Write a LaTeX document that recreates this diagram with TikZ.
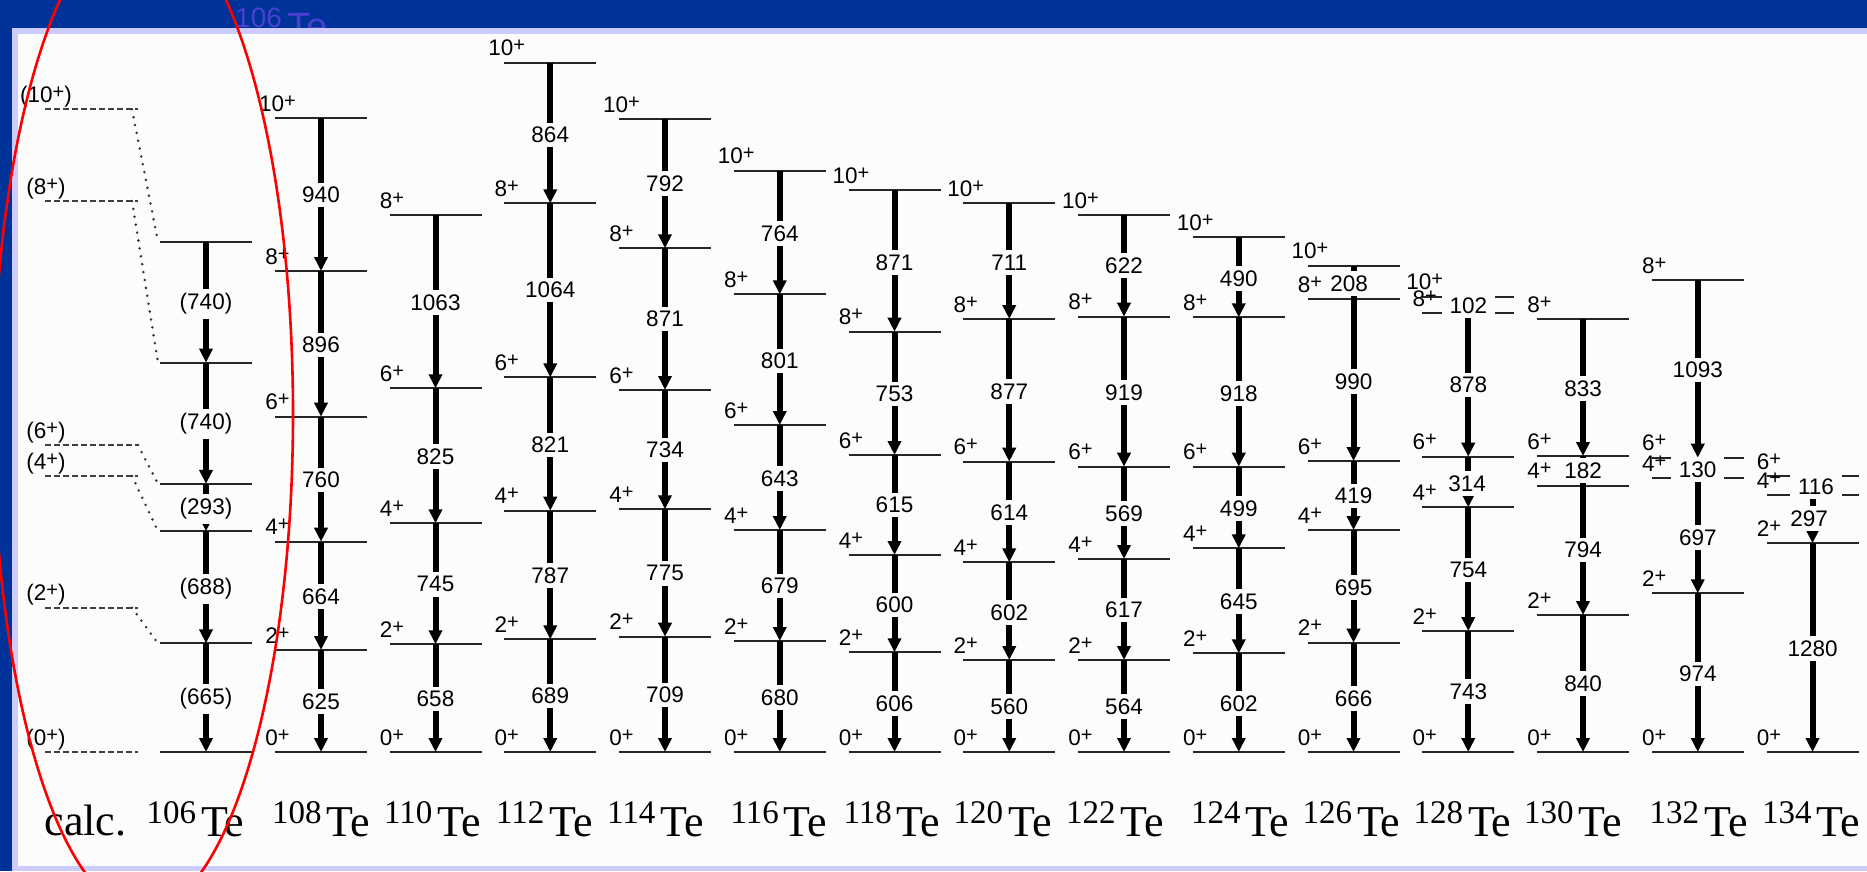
\documentclass[tikz,border=0pt]{standalone}
\usepackage{fontspec}
\setmainfont{Liberation Serif}
\newfontfamily\labfont{Liberation Sans}
\usetikzlibrary{arrows.meta}
\definecolor{banner}{RGB}{0,51,153}
\definecolor{frame}{RGB}{204,204,255}
\definecolor{panel}{RGB}{252,252,252}
\definecolor{ghost}{RGB}{72,64,208}
\definecolor{ringred}{RGB}{255,0,0}
\pgfdeclarelayer{elab}
\pgfdeclarelayer{slab}
\pgfdeclarelayer{ringlayer}
\pgfsetlayers{main,elab,slab,ringlayer}
\newcommand\pl{\raisebox{4pt}{\fontsize{20}{20}\selectfont +}}
\newcommand\sups[1]{\raisebox{13pt}{\fontsize{33}{33}\selectfont #1}\hspace{5pt}}
\tikzset{
  levelline/.style={line width=2pt, draw=black!85},
  gam/.style={line width=6pt, draw=black, -{Triangle[length=14pt, width=13pt]}},
  gamline/.style={line width=6pt, draw=black},
  en/.style={fill=panel, inner xsep=8pt, inner ysep=4.5pt, font=\labfont\fontsize{22.5}{22.5}\selectfont},
  spin/.style={inner sep=0pt, anchor=base, font=\labfont\fontsize{22.5}{22.5}\selectfont},
  iso/.style={inner sep=0pt, anchor=base, font=\fontsize{44}{44}\selectfont},
  calcdash/.style={line width=1.8pt, draw=black!75, dash pattern=on 6pt off 3pt},
  calcdot/.style={line width=2.8pt, draw=black!80, dash pattern=on 0pt off 8pt, line cap=round},
}
\newcommand\lvl[4]{\coordinate (#1) at (#2,#3);
  \draw[levelline] ([xshift=-46pt]#1) -- ([xshift=46pt]#1);
  \begin{pgfonlayer}{slab}\node[spin] (#1s) at ([xshift=-43.5pt,yshift=7pt]#1) {#4};\end{pgfonlayer}}
\newcommand\lvlb[3]{\coordinate (#1) at (#2,#3);
  \draw[levelline] ([xshift=-46pt]#1) -- ([xshift=46pt]#1);}
\newcommand\gam[5]{\draw[gam] (#1) -- (#2);
  \begin{pgfonlayer}{elab}\node[en] (#1t) at (#3,#4) {#5};\end{pgfonlayer}}
\newcommand\gamn[5]{\draw[gamline] (#1) -- (#2);
  \begin{pgfonlayer}{elab}\node[en] (#1t) at (#3,#4) {#5};\end{pgfonlayer}}
\newcommand\calclev[3]{\coordinate (#1a) at (45,#2); \coordinate (#1b) at (138,#2);
  \draw[calcdash] (#1a) -- (#1b);
  \node[spin] (#1s) at (46,#2-7) {#3};}
\begin{document}
\begin{tikzpicture}[x=1pt,y=-1pt]
\useasboundingbox (0,0) rectangle (1867,871);
% background
\fill[banner] (0,0) rectangle (1867,871);
\node[anchor=base west, inner sep=0pt, text=ghost, font=\labfont\fontsize{38}{38}\selectfont] (ghosttitle) at (235,39.5)
  {\raisebox{12pt}{\fontsize{28}{28}\selectfont 106}\hspace{6pt}Te};
\fill[frame] (12,28) rectangle (1867,871);
\fill[panel] (18,34) rectangle (1867,866);

% calc
\calclev{K10}{109.3}{(10\pl)}
\calclev{K8}{201}{(8\pl)}
\calclev{K6}{445}{(6\pl)}
\calclev{K4}{476}{(4\pl)}
\calclev{K2}{607.7}{(2\pl)}
\calclev{K0}{752}{(0\pl)}

% 106
\lvlb{L106a}{206}{241.7}
\lvlb{L106b}{206}{362.6}
\lvlb{L106c}{206}{483.9}
\lvlb{L106d}{206}{531.2}
\lvlb{L106e}{206}{643.4}
\lvlb{L106f}{206}{752}
\gam{L106a}{L106b}{206}{303.6}{(740)}
\gam{L106b}{L106c}{206}{423.8}{(740)}
\gam{L106c}{L106d}{206}{508.7}{(293)}
\gam{L106d}{L106e}{206}{588.8}{(688)}
\gam{L106e}{L106f}{206}{698.8}{(665)}

\coordinate (D10) at (132,109.3);
\coordinate (D8) at (132,201);
\coordinate (D6) at (138,445);
\coordinate (D4) at (132,476);
\coordinate (D2) at (132,607.7);
\draw[calcdot] (D10) -- ([xshift=-48pt]L106a);
\draw[calcdot] (D8) -- ([xshift=-48pt]L106b);
\draw[calcdot] (D6) -- ([xshift=-48pt]L106c);
\draw[calcdot] (D4) -- ([xshift=-48pt]L106d);
\draw[calcdot] (D2) -- ([xshift=-48pt]L106e);

% 108
\lvl{L108a}{321}{118.3}{10\pl}
\lvl{L108b}{321}{271}{8\pl}
\lvl{L108c}{321}{416.7}{6\pl}
\lvl{L108d}{321}{541.7}{4\pl}
\lvl{L108e}{321}{650}{2\pl}
\lvl{L108f}{321}{752}{0\pl}
\gam{L108a}{L108b}{321}{195}{940}
\gam{L108b}{L108c}{321}{345}{896}
\gam{L108c}{L108d}{321}{480}{760}
\gam{L108d}{L108e}{321}{596.7}{664}
\gam{L108e}{L108f}{321}{701.7}{625}

% 110
\lvl{L110b}{435.5}{215}{8\pl}
\lvl{L110c}{435.5}{388.3}{6\pl}
\lvl{L110d}{435.5}{523.3}{4\pl}
\lvl{L110e}{435.5}{644.3}{2\pl}
\lvl{L110f}{435.5}{752}{0\pl}
\gam{L110b}{L110c}{435.5}{302.7}{1063}
\gam{L110c}{L110d}{435.5}{456.7}{825}
\gam{L110d}{L110e}{435.5}{584.3}{745}
\gam{L110e}{L110f}{435.5}{699}{658}

% 112
\lvl{L112a}{550.25}{62.7}{10\pl}
\lvl{L112b}{550.25}{203.3}{8\pl}
\lvl{L112c}{550.25}{377.3}{6\pl}
\lvl{L112d}{550.25}{510.7}{4\pl}
\lvl{L112e}{550.25}{639.3}{2\pl}
\lvl{L112f}{550.25}{752}{0\pl}
\gam{L112a}{L112b}{550.25}{135}{864}
\gam{L112b}{L112c}{550.25}{290}{1064}
\gam{L112c}{L112d}{550.25}{445}{821}
\gam{L112d}{L112e}{550.25}{575.7}{787}
\gam{L112e}{L112f}{550.25}{696}{689}

% 114
\lvl{L114a}{665}{119}{10\pl}
\lvl{L114b}{665}{248.3}{8\pl}
\lvl{L114c}{665}{390}{6\pl}
\lvl{L114d}{665}{509.3}{4\pl}
\lvl{L114e}{665}{636.7}{2\pl}
\lvl{L114f}{665}{752}{0\pl}
\gam{L114a}{L114b}{665}{183.3}{792}
\gam{L114b}{L114c}{665}{319}{871}
\gam{L114c}{L114d}{665}{450}{734}
\gam{L114d}{L114e}{665}{573.3}{775}
\gam{L114e}{L114f}{665}{695}{709}

% 116
\lvl{L116a}{779.75}{170.7}{10\pl}
\lvl{L116b}{779.75}{294.3}{8\pl}
\lvl{L116c}{779.75}{425}{6\pl}
\lvl{L116d}{779.75}{530}{4\pl}
\lvl{L116e}{779.75}{641}{2\pl}
\lvl{L116f}{779.75}{752}{0\pl}
\gam{L116a}{L116b}{779.75}{233.3}{764}
\gam{L116b}{L116c}{779.75}{361}{801}
\gam{L116c}{L116d}{779.75}{478.3}{643}
\gam{L116d}{L116e}{779.75}{586}{679}
\gam{L116e}{L116f}{779.75}{697.7}{680}

% 118
\lvl{L118a}{894.5}{190}{10\pl}
\lvl{L118b}{894.5}{331.7}{8\pl}
\lvl{L118c}{894.5}{455}{6\pl}
\lvl{L118d}{894.5}{555}{4\pl}
\lvl{L118e}{894.5}{652.3}{2\pl}
\lvl{L118f}{894.5}{752}{0\pl}
\gam{L118a}{L118b}{894.5}{262.7}{871}
\gam{L118b}{L118c}{894.5}{394}{753}
\gam{L118c}{L118d}{894.5}{505}{615}
\gam{L118d}{L118e}{894.5}{605}{600}
\gam{L118e}{L118f}{894.5}{703.3}{606}

% 120
\lvl{L120a}{1009.25}{203.3}{10\pl}
\lvl{L120b}{1009.25}{319}{8\pl}
\lvl{L120c}{1009.25}{461.7}{6\pl}
\lvl{L120d}{1009.25}{562.3}{4\pl}
\lvl{L120e}{1009.25}{660}{2\pl}
\lvl{L120f}{1009.25}{752}{0\pl}
\gam{L120a}{L120b}{1009.25}{262.3}{711}
\gam{L120b}{L120c}{1009.25}{391.7}{877}
\gam{L120c}{L120d}{1009.25}{512.7}{614}
\gam{L120d}{L120e}{1009.25}{612.3}{602}
\gam{L120e}{L120f}{1009.25}{706.7}{560}

% 122
\lvl{L122a}{1124}{215}{10\pl}
\lvl{L122b}{1124}{316.7}{8\pl}
\lvl{L122c}{1124}{466.7}{6\pl}
\lvl{L122d}{1124}{559}{4\pl}
\lvl{L122e}{1124}{660}{2\pl}
\lvl{L122f}{1124}{752}{0\pl}
\gam{L122a}{L122b}{1124}{265.7}{622}
\gam{L122b}{L122c}{1124}{392.3}{919}
\gam{L122c}{L122d}{1124}{513.3}{569}
\gam{L122d}{L122e}{1124}{610}{617}
\gam{L122e}{L122f}{1124}{706.7}{564}

% 124
\lvl{L124a}{1238.75}{237.3}{10\pl}
\lvl{L124b}{1238.75}{317.3}{8\pl}
\lvl{L124c}{1238.75}{466.7}{6\pl}
\lvl{L124d}{1238.75}{548.3}{4\pl}
\lvl{L124e}{1238.75}{653.3}{2\pl}
\lvl{L124f}{1238.75}{752}{0\pl}
\gam{L124a}{L124b}{1238.75}{278.3}{490}
\gam{L124b}{L124c}{1238.75}{393.3}{918}
\gam{L124c}{L124d}{1238.75}{508.3}{499}
\gam{L124d}{L124e}{1238.75}{601.7}{645}
\gam{L124e}{L124f}{1238.75}{703.3}{602}

% 126
\lvl{L126a}{1353.5}{265.7}{10\pl}
\lvl{L126b}{1353.5}{299.3}{8\pl}
\lvl{L126c}{1353.5}{461}{6\pl}
\lvl{L126d}{1353.5}{530}{4\pl}
\lvl{L126e}{1353.5}{642.7}{2\pl}
\lvl{L126f}{1353.5}{752}{0\pl}
\gamn{L126a}{L126b}{1349}{283.3}{208}
\gam{L126b}{L126c}{1353.5}{381.7}{990}
\gam{L126c}{L126d}{1353.5}{496}{419}
\gam{L126d}{L126e}{1353.5}{587.3}{695}
\gam{L126e}{L126f}{1353.5}{698.3}{666}

% 128
\lvl{L128a}{1468.25}{296.7}{10\pl}
\lvl{L128b}{1468.25}{313.3}{8\pl}
\lvl{L128c}{1468.25}{456.7}{6\pl}
\lvl{L128d}{1468.25}{507.3}{4\pl}
\lvl{L128e}{1468.25}{631}{2\pl}
\lvl{L128f}{1468.25}{752}{0\pl}
\gamn{L128a}{L128b}{1468.25}{306}{102}
\gam{L128b}{L128c}{1468.25}{385}{878}
\gam{L128c}{L128d}{1467}{483.3}{314}
\gam{L128d}{L128e}{1468.25}{570}{754}
\gam{L128e}{L128f}{1468.25}{691.7}{743}

% 130
\lvl{L130b}{1583}{319.3}{8\pl}
\lvl{L130c}{1583}{456}{6\pl}
\lvl{L130d}{1583}{485.7}{4\pl}
\lvl{L130e}{1583}{615}{2\pl}
\lvl{L130f}{1583}{752}{0\pl}
\gam{L130b}{L130c}{1583}{388.3}{833}
\gamn{L130c}{L130d}{1583}{470.7}{182}
\gam{L130d}{L130e}{1583}{550}{794}
\gam{L130e}{L130f}{1583}{683.3}{840}

% 132
\lvl{L132b}{1697.75}{280}{8\pl}
\lvl{L132c}{1697.75}{457.7}{6\pl}
\lvl{L132d}{1697.75}{478.3}{4\pl}
\lvl{L132e}{1697.75}{593.3}{2\pl}
\lvl{L132f}{1697.75}{752}{0\pl}
\gam{L132b}{L132c}{1697.75}{370}{1093}
\gamn{L132c}{L132d}{1697.5}{469.3}{130}
\gam{L132d}{L132e}{1697.75}{537.3}{697}
\gam{L132e}{L132f}{1697.75}{674}{974}

% 134
\lvl{L134c}{1812.5}{476}{6\pl}
\lvl{L134d}{1812.5}{495}{4\pl}
\lvl{L134e}{1812.5}{543.3}{2\pl}
\lvl{L134f}{1812.5}{752}{0\pl}
\gamn{L134c}{L134d}{1816}{486.7}{116}
\gam{L134d}{L134e}{1809}{518.3}{297}
\gam{L134e}{L134f}{1812.5}{648.3}{1280}

% isotope names
\node[iso] (ncalc) at (85.5,835) {calc.};
\node[iso] (n106) at (195.5,836) {\sups{106}Te};
\node[iso] (n108) at (321,836) {\sups{108}Te};
\node[iso] (n110) at (432.5,836) {\sups{110}Te};
\node[iso] (n112) at (544.5,836) {\sups{112}Te};
\node[iso] (n114) at (655.5,836) {\sups{114}Te};
\node[iso] (n116) at (779,836) {\sups{116}Te};
\node[iso] (n118) at (892,836) {\sups{118}Te};
\node[iso] (n120) at (1002.6,836) {\sups{120}Te};
\node[iso] (n122) at (1115,836) {\sups{122}Te};
\node[iso] (n124) at (1240,836) {\sups{124}Te};
\node[iso] (n126) at (1351.5,836) {\sups{126}Te};
\node[iso] (n128) at (1462.5,836) {\sups{128}Te};
\node[iso] (n130) at (1573,836) {\sups{130}Te};
\node[iso] (n132) at (1698.6,836) {\sups{132}Te};
\node[iso] (n134) at (1811,836) {\sups{134}Te};

% red ellipse
\begin{pgfonlayer}{ringlayer}
\begin{scope}
\clip (0,0) rectangle (1867,871);
\draw[ringred, line width=2.6pt] (143,414) ellipse [x radius=150pt, y radius=497pt];
\end{scope}
\end{pgfonlayer}
\end{tikzpicture}
\end{document}
